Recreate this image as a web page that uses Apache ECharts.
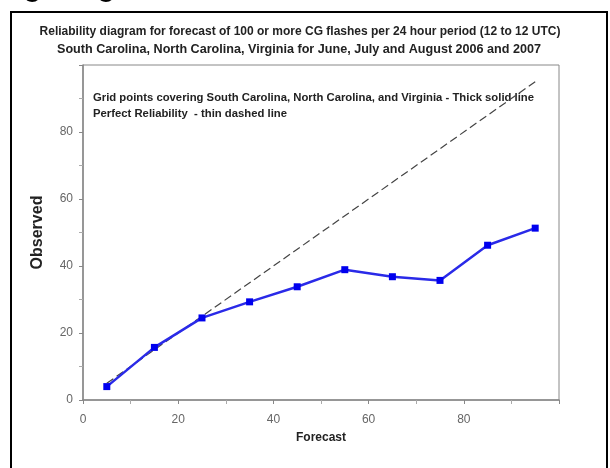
<!DOCTYPE html>
<html>
<head>
<meta charset="utf-8">
<script src="https://cdn.jsdelivr.net/npm/echarts@6/dist/echarts.min.js"></script>
<style>
  html, body { margin: 0; padding: 0; background: #fff; }
  #chart { width: 610px; height: 468px; }
</style>
</head>
<body>
<div id="chart"></div>
<script>
// forecast probability bins (%)
var forecast = [5, 15, 25, 35, 45, 55, 65, 75, 85, 95];
// observed frequency (%)
var observed = [4.0, 15.7, 24.5, 29.3, 33.8, 38.9, 36.8, 35.7, 46.2, 51.3];
// perfect reliability line
var perfect = [[5, 5], [95, 95]];

var titleLines = [
  "Reliability diagram for forecast of 100 or more CG flashes per 24 hour period (12 to 12 UTC)",
  "South Carolina, North Carolina, Virginia for June, July and August 2006 and 2007"
];
var noteLines = [
  "Grid points covering South Carolina, North Carolina, and Virginia - Thick solid line",
  "Perfect Reliability  - thin dashed line"
];

var chart = echarts.init(document.getElementById("chart"));

var option = {
  animation: false,
  backgroundColor: "#fff",
  grid: {
    left: 83,
    right: 51,
    top: 65,
    bottom: 68,
    show: true,
    borderColor: "#888",
    borderWidth: 1
  },
  xAxis: {
    type: "value",
    min: 0,
    max: 100,
    interval: 20,
    name: "Forecast",
    nameLocation: "middle",
    nameGap: 32,
    nameTextStyle: { fontFamily: "Liberation Sans", fontWeight: "bold", fontSize: 12, color: "#222" },
    axisLine: { lineStyle: { color: "#888", width: 1.5 } },
    axisTick: { lineStyle: { color: "#888" }, length: 4 },
    minorTick: { show: true, splitNumber: 2, length: 4, lineStyle: { color: "#aaa" } },
    splitLine: { show: false },
    axisLabel: {
      color: "#666",
      fontFamily: "Liberation Sans",
      fontSize: 12,
      margin: 14,
      formatter: function (v) { return v === 100 ? "" : v; }
    }
  },
  yAxis: {
    type: "value",
    min: 0,
    max: 100,
    interval: 20,
    name: "Observed",
    nameLocation: "middle",
    nameGap: 37,
    nameTextStyle: { fontFamily: "Liberation Sans", fontWeight: "bold", fontSize: 16, color: "#222" },
    axisLine: { show: true, lineStyle: { color: "#888", width: 1.5 } },
    axisTick: { show: true, lineStyle: { color: "#888" }, length: 4 },
    minorTick: { show: true, splitNumber: 2, length: 4, lineStyle: { color: "#aaa" } },
    splitLine: { show: false },
    axisLabel: {
      color: "#666",
      fontFamily: "Liberation Sans",
      fontSize: 12,
      margin: 10,
      formatter: function (v) { return v === 100 ? "" : v; }
    }
  },
  graphic: [
    {
      type: "rect",
      shape: { x: 11, y: 12, width: 596, height: 470 },
      style: { fill: "none", stroke: "#000", lineWidth: 2 },
      silent: true
    },
    // cropped heading of the page above the figure
    {
      type: "text", x: 4, y: 3,
      style: { text: "ng diag", fill: "#000", align: "left", verticalAlign: "bottom", font: "34px 'Liberation Sans'" }
    },
    {
      type: "text", x: 300, y: 32,
      style: { text: titleLines[0], fill: "#222", align: "center", verticalAlign: "middle", font: "bold 12px 'Liberation Sans'" }
    },
    {
      type: "text", x: 299, y: 50,
      style: { text: titleLines[1], fill: "#222", align: "center", verticalAlign: "middle", font: "bold 12.6px 'Liberation Sans'" }
    },
    {
      type: "text", x: 93, y: 98,
      style: { text: noteLines[0], fill: "#222", align: "left", verticalAlign: "middle", font: "bold 11.3px 'Liberation Sans'" }
    },
    {
      type: "text", x: 93, y: 114,
      style: { text: noteLines[1], fill: "#222", align: "left", verticalAlign: "middle", font: "bold 11.3px 'Liberation Sans'" }
    }
  ],
  series: [
    {
      name: "Perfect Reliability",
      type: "line",
      data: perfect,
      symbol: "none",
      lineStyle: { color: "#444", width: 1.2, type: [8, 4] },
      z: 2
    },
    {
      name: "Grid points",
      type: "line",
      data: forecast.map(function (f, i) { return [f, observed[i]]; }),
      symbol: "rect",
      symbolSize: 7,
      itemStyle: { color: "#0000ee" },
      lineStyle: { color: "#2a2ae8", width: 2.5 },
      z: 3
    }
  ]
};

chart.setOption(option);
</script>
</body>
</html>
